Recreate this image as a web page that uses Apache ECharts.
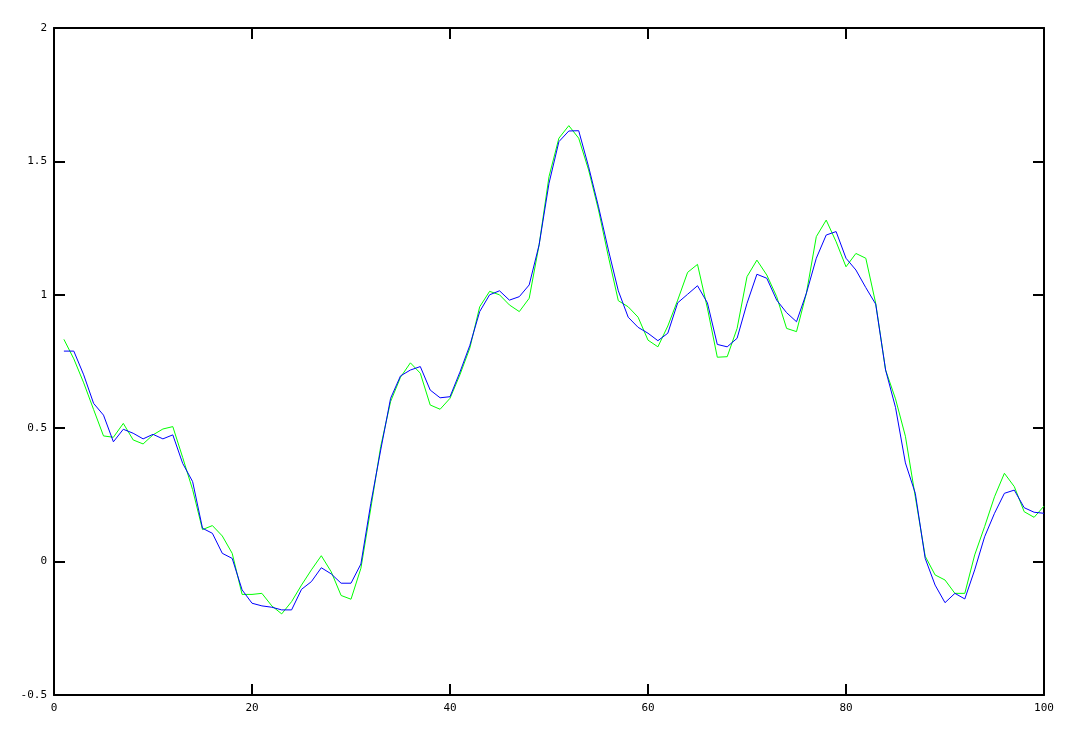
<!DOCTYPE html>
<html>
<head>
<meta charset="utf-8">
<script src="https://cdn.jsdelivr.net/npm/echarts@6/dist/echarts.min.js"></script>
<style>
html,body{margin:0;padding:0;background:#fff;}
#chart{width:1074px;height:738px;}
</style>
</head>
<body>
<div id="chart"></div>
<script>
var xValues = [];
for (var i = 1; i <= 100; i++) xValues.push(i);

var greenValues = [
0.833,0.76,0.67,0.57,0.471,0.466,0.518,0.456,0.441,0.475,
0.497,0.506,0.39,0.27,0.12,0.135,0.096,0.031,-0.123,-0.123,
-0.119,-0.166,-0.196,-0.150,-0.088,-0.031,0.022,-0.038,-0.127,-0.141,
-0.025,0.2,0.431,0.6,0.691,0.745,0.706,0.587,0.571,0.612,
0.70,0.80,0.955,1.013,1.0,0.962,0.937,0.987,1.187,1.443,
1.587,1.634,1.587,1.468,1.318,1.143,0.978,0.955,0.916,0.83,
0.805,0.883,0.98,1.084,1.114,0.95,0.766,0.768,0.874,1.068,
1.13,1.074,0.993,0.874,0.862,1.006,1.218,1.28,1.199,1.105,
1.155,1.137,0.968,0.718,0.61,0.47,0.243,0.02,-0.05,-0.069,
-0.119,-0.119,0.025,0.131,0.243,0.331,0.281,0.187,0.166,0.208
];

var blueValues = [
0.789,0.789,0.70,0.593,0.549,0.449,0.496,0.481,0.46,0.477,
0.46,0.475,0.368,0.30,0.125,0.106,0.031,0.012,-0.106,-0.156,
-0.166,-0.171,-0.181,-0.181,-0.104,-0.075,-0.023,-0.046,-0.081,-0.081,
-0.009,0.218,0.418,0.612,0.696,0.718,0.731,0.643,0.614,0.618,
0.71,0.81,0.937,1.0,1.015,0.98,0.993,1.037,1.187,1.418,
1.574,1.614,1.615,1.48,1.33,1.168,1.015,0.916,0.878,0.856,
0.828,0.856,0.97,1.002,1.034,0.97,0.814,0.805,0.837,0.968,
1.077,1.062,0.98,0.933,0.899,1.006,1.137,1.224,1.237,1.137,
1.093,1.027,0.965,0.718,0.578,0.37,0.256,0.012,-0.088,-0.154,
-0.119,-0.14,-0.031,0.093,0.181,0.256,0.268,0.202,0.185,0.181
];

var xTicks = [0, 20, 40, 60, 80, 100];
var yTicks = [-0.5, 0, 0.5, 1, 1.5, 2];

function pairs(xs, ys) {
  return xs.map(function (x, i) { return [x, ys[i]]; });
}

var chart = echarts.init(document.getElementById('chart'), null, {renderer: 'canvas'});

var lineStyleAxis = {color: '#000', width: 2};
var labelFont = {color: '#000', fontFamily: 'DejaVu Sans Mono', fontSize: 11};

function xAx(pos, showLabel) {
  return {
    type: 'value', position: pos, min: xTicks[0], max: xTicks[xTicks.length - 1], interval: 20,
    axisLine: {show: true, onZero: false, lineStyle: lineStyleAxis},
    axisTick: {show: true, inside: true, length: 11, lineStyle: lineStyleAxis},
    axisLabel: Object.assign({show: showLabel, margin: 8}, labelFont),
    splitLine: {show: false}
  };
}
function yAx(pos, showLabel) {
  return {
    type: 'value', position: pos, min: yTicks[0], max: yTicks[yTicks.length - 1], interval: 0.5,
    axisLine: {show: true, onZero: false, lineStyle: lineStyleAxis},
    axisTick: {show: true, inside: true, length: 11, lineStyle: lineStyleAxis},
    axisLabel: Object.assign({show: showLabel, margin: 7}, labelFont),
    splitLine: {show: false}
  };
}

chart.setOption({
  animation: false,
  backgroundColor: '#fff',
  grid: {left: 54, top: 28, right: 30, bottom: 43, containLabel: false},
  xAxis: [xAx('bottom', true), xAx('top', false)],
  yAxis: [yAx('left', true), yAx('right', false)],
  series: [
    {
      type: 'line', xAxisIndex: 0, yAxisIndex: 0,
      data: pairs(xValues, greenValues),
      showSymbol: false, symbol: 'none',
      lineStyle: {color: '#00ff00', width: 1}
    },
    {
      type: 'line', xAxisIndex: 0, yAxisIndex: 0,
      data: pairs(xValues, blueValues),
      showSymbol: false, symbol: 'none',
      lineStyle: {color: '#0000ff', width: 1}
    }
  ]
});
</script>
</body>
</html>
